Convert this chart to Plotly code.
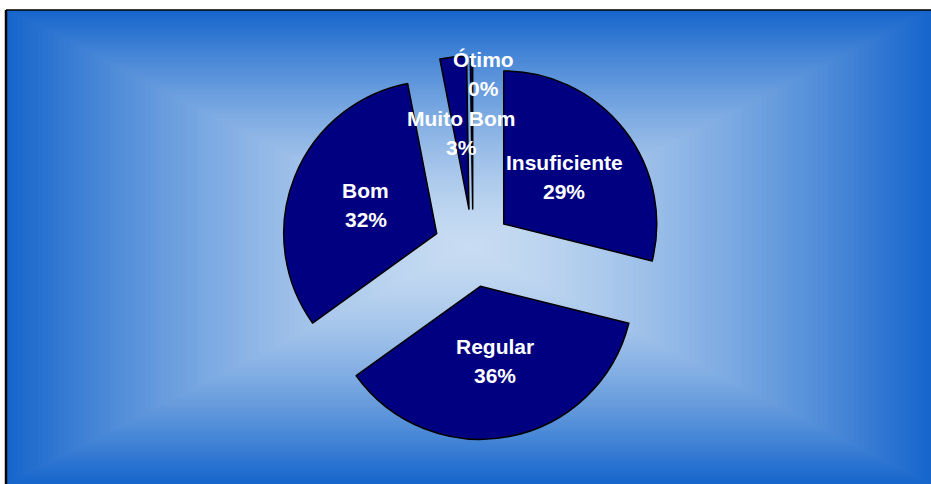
import math
import plotly.graph_objects as go

# ---- data ----
categories = ["Insuficiente", "Regular", "Bom", "Muito Bom", "Ótimo"]
values = [28.9, 36.2, 31.9, 2.8, 0.25]

W, H = 931, 484
FRAME_L, FRAME_T = 7, 10

# pie geometry (pixels)
CX, CY = 473, 248
PULL = 0.255
R = 153
box_half = R * (1 + PULL)

fig = go.Figure()
fig.add_trace(go.Pie(
    labels=categories, values=values, sort=False, direction="clockwise", rotation=0,
    pull=[PULL] * len(values), textinfo="none", hoverinfo="label+percent",
    marker=dict(colors=["#000080"] * len(values), line=dict(color="black", width=1.5)),
    domain=dict(x=[(CX - 250) / W, (CX + 250) / W],
                y=[1 - (CY + box_half) / H, 1 - (CY - box_half) / H]),
    showlegend=False,
))

def px2paper(x, y):
    return x / W, 1 - y / H

# background: rectangular gradient from centre
shapes = []
gx0, gy0, gx1, gy1 = FRAME_L, FRAME_T, W, H
gcx, gcy = (gx0 + gx1) / 2, (gy0 + gy1) / 2
hw, hh = (gx1 - gx0) / 2, (gy1 - gy0) / 2
c_edge = (22, 102, 204)
c_mid = (200, 220, 242)
N = 90
for i in range(N, 0, -1):
    t = i / N
    f = t ** 1.5
    col = tuple(int(round(c_mid[k] + (c_edge[k] - c_mid[k]) * f)) for k in range(3))
    x0, y0 = px2paper(gcx - t * hw, gcy + t * hh)
    x1, y1 = px2paper(gcx + t * hw, gcy - t * hh)
    shapes.append(dict(type="rect", xref="paper", yref="paper", x0=x0, y0=y0, x1=x1, y1=y1,
                       fillcolor="rgb(%d,%d,%d)" % col, line=dict(width=0), layer="below"))
# frame lines
ax, ay = px2paper(FRAME_L - 1, FRAME_T)
bx, by = px2paper(W, FRAME_T)
shapes.append(dict(type="line", xref="paper", yref="paper", x0=ax, y0=ay, x1=bx, y1=by,
                   line=dict(color="black", width=1.5), layer="below"))
lx, ly0 = px2paper(FRAME_L - 1, FRAME_T)
_, ly1 = px2paper(FRAME_L - 1, H)
shapes.append(dict(type="line", xref="paper", yref="paper", x0=lx, y0=ly0, x1=lx, y1=ly1,
                   line=dict(color="black", width=2.5), layer="below"))

# labels, placed from the slice angles
total = sum(values)
label_r = [0.5, 0.5, 0.5, 0.5, 0.88]
label_dx = [0, 0, 0, 0, 12]
annotations = []
cum = 0
font = dict(family="Liberation Sans, Arial, sans-serif", size=21, color="white")
for i, (cat, v) in enumerate(zip(categories, values)):
    mid = (cum + v / 2) / total * 2 * math.pi
    cum += v
    d = R * PULL + R * label_r[i]
    lx_ = CX + d * math.sin(mid) + label_dx[i]
    ly_ = CY - d * math.cos(mid)
    pct = round(v / total * 100)
    for txt, dy in ((f"<b>{cat}</b>", -14.5), (f"<b>{pct}%</b>", 14.5)):
        x, y = px2paper(lx_, ly_ + dy)
        annotations.append(dict(text=txt, x=x, y=y, xref="paper", yref="paper",
                                xanchor="center", yanchor="middle", showarrow=False, font=font))

fig.update_layout(
    width=W, height=H, margin=dict(l=0, r=0, t=0, b=0),
    paper_bgcolor="white", plot_bgcolor="white",
    shapes=shapes, annotations=annotations,
)
fig.write_html("out.html", config={"displayModeBar": False},
               post_script="document.body.style.margin='0';document.body.style.overflow='hidden';")
